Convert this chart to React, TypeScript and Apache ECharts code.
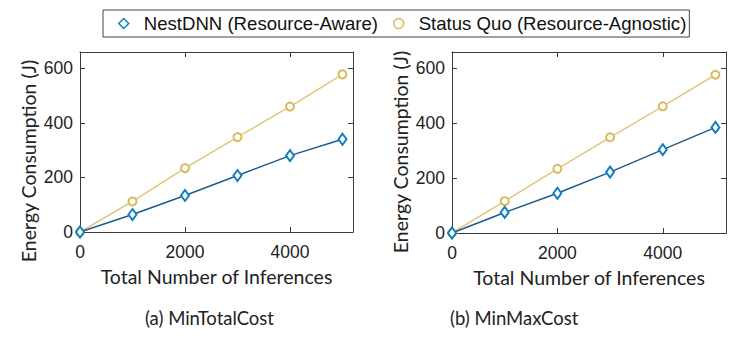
import React, { useEffect, useRef } from "react";
import * as echarts from "echarts";

const xValues = [0, 1000, 2000, 3000, 4000, 5000];
const nestTotal = [0, 64, 134, 207, 280, 340];
const quoTotal = [0, 112, 234, 348, 460, 578];
const nestMax = [0, 75, 145, 222, 304, 385];
const quoMax = [0, 116, 234, 349, 462, 577];
const seriesNames = ["NestDNN (Resource-Aware)", "Status Quo (Resource-Agnostic)"];
const captions = ["(a) MinTotalCost", "(b) MinMaxCost"];
const xTitle = "Total Number of Inferences";
const yTitle = "Energy Consumption (J)";
const xTickLabels = [0, 2000, 4000];
const yTickLabels = [0, 200, 400, 600];

const BLUE_LINE = "#1d5b8c";
const BLUE_MARK = "#0f80bd";
const GOLD_LINE = "#e2c679";
const GOLD_MARK = "#dcb95a";
const AXIS = "#3a3a3a";
const TICK_FONT = "Liberation Sans";
const TITLE_FONT = "Lato";

const toPairs = (ys: number[]) => xValues.map((x, i) => [x, ys[i]]);

export default function App() {
  const ref = useRef<HTMLDivElement>(null);
  useEffect(() => {
    if (!ref.current) return;
    const chart = echarts.init(ref.current, null, { renderer: "svg" });
    const grids = [
      { left: 80, top: 52, width: 273, height: 180 },
      { left: 452, top: 52, width: 274, height: 181 },
    ];
    const xAxes: any[] = [];
    const yAxes: any[] = [];
    grids.forEach((_, g) => {
      xAxes.push({
        type: "value", gridIndex: g, min: 0, max: 5200, interval: 2000,
        position: "bottom",
        name: xTitle, nameLocation: "middle", nameGap: 34,
        nameTextStyle: { fontFamily: TITLE_FONT, fontSize: 19.5, color: "#222" },
        axisLine: { show: true, onZero: false, lineStyle: { color: AXIS, width: 1 } },
        axisTick: { show: true, inside: true, length: 5, lineStyle: { color: AXIS } },
        axisLabel: {
          fontFamily: TICK_FONT, fontSize: 17.5, color: "#222", margin: 11,
          formatter: (v: number) => (xTickLabels.includes(v) ? String(v) : ""),
        },
        splitLine: { show: false },
      });
      xAxes.push({
        type: "value", gridIndex: g, min: 0, max: 5200, interval: 2000,
        position: "top",
        axisLine: { show: true, onZero: false, lineStyle: { color: AXIS, width: 1 } },
        axisTick: { show: true, inside: true, length: 5, lineStyle: { color: AXIS } },
        axisLabel: { show: false },
        splitLine: { show: false },
      });
      yAxes.push({
        type: "value", gridIndex: g, min: 0, max: 660, interval: 200,
        position: "left",
        axisLine: { show: true, onZero: false, lineStyle: { color: AXIS, width: 1 } },
        axisTick: { show: true, inside: true, length: 5, lineStyle: { color: AXIS } },
        axisLabel: {
          fontFamily: TICK_FONT, fontSize: 17.5, color: "#222", margin: 7,
          formatter: (v: number) => (yTickLabels.includes(v) ? String(v) : ""),
        },
        splitLine: { show: false },
      });
      yAxes.push({
        type: "value", gridIndex: g, min: 0, max: 660, interval: 200,
        position: "right",
        axisLine: { show: true, onZero: false, lineStyle: { color: AXIS, width: 1 } },
        axisTick: { show: true, inside: true, length: 5, lineStyle: { color: AXIS } },
        axisLabel: { show: false },
        splitLine: { show: false },
      });
    });

    const mk = (name: string, data: number[], g: number, nest: boolean) => ({
      type: "line",
      name,
      xAxisIndex: g * 2,
      yAxisIndex: g * 2,
      data: toPairs(data),
      symbol: nest ? "emptyDiamond" : "emptyCircle",
      symbolSize: nest ? [8, 11] : 8,
      showSymbol: true,
      lineStyle: { color: nest ? BLUE_LINE : GOLD_LINE, width: 1.5 },
      itemStyle: { color: nest ? BLUE_MARK : GOLD_MARK, borderColor: nest ? BLUE_MARK : GOLD_MARK, borderWidth: 1.5 },
      z: nest ? 3 : 2,
    });

    const yTitleStyle = { text: yTitle, fontFamily: TITLE_FONT, fontSize: 19.5, fill: "#222", textAlign: "center", textVerticalAlign: "middle" };

    chart.setOption({
      animation: false,
      backgroundColor: "#ffffff",
      grid: grids,
      xAxis: xAxes,
      yAxis: yAxes,
      legend: {
        left: 103, top: 10,
        padding: [4, 3, 4, 15],
        borderColor: "#444", borderWidth: 1,
        itemGap: 15, itemWidth: 10, itemHeight: 10,
        textStyle: { fontFamily: TICK_FONT, fontSize: 18.6, color: "#111", padding: [0, 0, 0, 10] },
        data: [
          { name: seriesNames[0], icon: "diamond", itemStyle: { color: "#fff", borderColor: BLUE_MARK, borderWidth: 1.5 } },
          { name: seriesNames[1], icon: "circle", itemStyle: { color: "#fff", borderColor: GOLD_MARK, borderWidth: 1.5 } },
        ],
      },
      title: [
        { text: captions[0], left: 140, top: 303, textStyle: { fontFamily: TITLE_FONT, fontSize: 18.5, fontWeight: "normal", color: "#222" } },
        { text: captions[1], left: 445, top: 303, textStyle: { fontFamily: TITLE_FONT, fontSize: 18.5, fontWeight: "normal", color: "#222" } },
      ],
      graphic: [
        { type: "text", x: 28, y: 161, rotation: Math.PI / 2, style: yTitleStyle },
        { type: "text", x: 400, y: 152, rotation: Math.PI / 2, style: yTitleStyle },
      ],
      series: [
        mk(seriesNames[1], quoTotal, 0, false),
        mk(seriesNames[0], nestTotal, 0, true),
        mk(seriesNames[1], quoMax, 1, false),
        mk(seriesNames[0], nestMax, 1, true),
      ],
    });
    return () => chart.dispose();
  }, []);
  return <div ref={ref} style={{ width: 743, height: 340, position: "absolute", left: 0, top: 0 }} />;
}
